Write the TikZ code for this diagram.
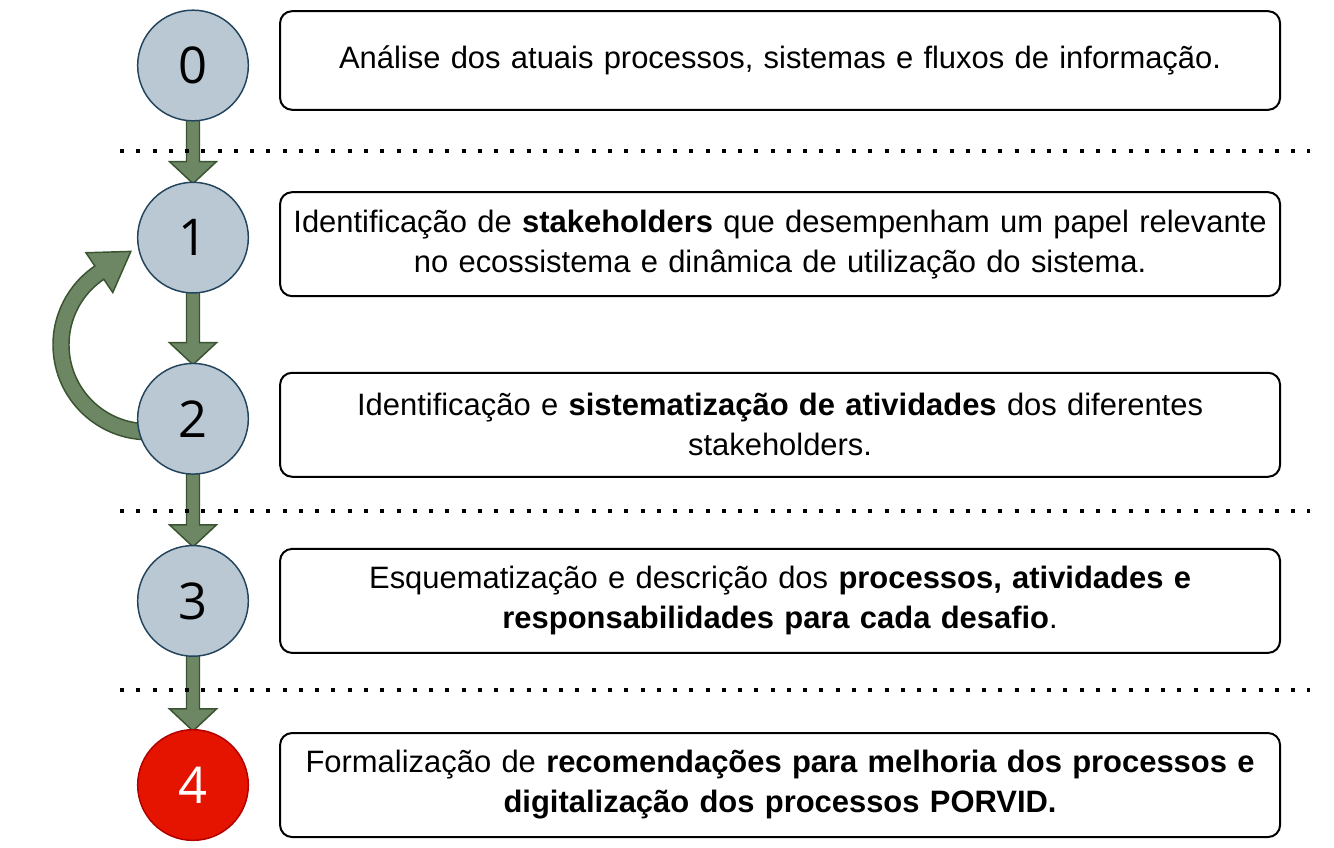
\documentclass[tikz,border=0pt]{standalone}
\usepackage{fontspec}
\setmainfont{Liberation Sans}
\newfontfamily\numfont{Open Sans}
\usepackage{tikz}
\usetikzlibrary{positioning,calc,backgrounds}
\definecolor{stagegray}{HTML}{BAC8D3}
\definecolor{stageedge}{HTML}{23445D}
\definecolor{lastred}{HTML}{E51400}
\definecolor{lastedge}{HTML}{B20000}
\definecolor{flowgreen}{HTML}{6D8764}
\definecolor{flowedge}{HTML}{3A5431}

% fat arrow from the bottom of one stage to the top of the next
\newcommand{\flowdown}[2]{%
  \filldraw[flow] ($(#1.south)+(-6.5,2)$) -- ($(#2.north)+(-6.5,20)$) -- ($(#2.north)+(-23.5,20)$)
    -- ($(#2.north)+(0,-2)$) -- ($(#2.north)+(23.5,20)$) -- ($(#2.north)+(6.5,20)$)
    -- ($(#1.south)+(6.5,2)$) -- cycle;}

\begin{document}
\begin{tikzpicture}[x=0.75pt, y=0.75pt,
    stage/.style={circle, draw=stageedge, fill=stagegray, line width=1.1pt, minimum size=83pt, inner sep=0pt, font=\numfont\fontsize{38}{40}\selectfont},
    laststage/.style={stage, draw=lastedge, fill=lastred, text=white},
    textbox/.style={rectangle, draw, line width=1.5pt, rounded corners=9pt, text width=744pt, inner sep=3pt, minimum height=78pt, align=center, font=\fontsize{23.2}{30}\selectfont},
    flow/.style={draw=flowedge, fill=flowgreen, line width=1.1pt, line join=miter},
    sep/.style={line width=3pt, dash pattern=on 3pt off 9.2pt}
]
\useasboundingbox (0,0) rectangle (1334,-848);

\node[stage] (c0) at (193,-65.5) {0};
\node[stage, below=45pt of c0] (c1) {1};
\node[stage, below=51.75pt of c1] (c2) {2};
\node[stage, below=52.5pt of c2] (c3) {3};
\node[laststage, below=54pt of c3] (c4) {4};

\node[textbox, right=22.5pt of c0, yshift=3.75pt, minimum height=74pt] (t0) {\raisebox{-3pt}{Análise dos atuais processos, sistemas e fluxos de informação.}};
\node[textbox, right=22.5pt of c1, yshift=-4.9pt] (t1) {Identificação de \textbf{stakeholders} que desempenham um papel relevante\\no ecossistema e dinâmica de utilização do sistema.};
\node[textbox, right=22.5pt of c2, yshift=-4.5pt] (t2) {Identificação e \textbf{sistematização de atividades} dos diferentes\\stakeholders.};
\node[textbox, right=22.5pt of c3] (t3) {Esquematização e descrição dos \textbf{processos, atividades e}\\\textbf{responsabilidades para cada desafio}.};
\node[textbox, right=22.5pt of c4] (t4) {Formalização de \textbf{recomendações para melhoria dos processos e}\\\textbf{digitalização dos processos PORVID.}};

\begin{scope}[on background layer]
\flowdown{c0}{c1}
\flowdown{c1}{c2}
\flowdown{c2}{c3}
\flowdown{c3}{c4}

% loop back from 2 to 1
\coordinate (loopc) at ($(c2)+(-45,74)$);
\filldraw[flow] ($(loopc)+(272:95)$) arc[start angle=272, end angle=124, radius=95]
  -- ($(loopc)+(124:111)$) -- ($(loopc)+(124:87)+(34:38)$) -- ($(loopc)+(124:63)$)
  -- ($(loopc)+(124:79)$) arc[start angle=124, end angle=272, radius=79] -- cycle;

\draw[sep] (120,-151) -- (1310,-151);
\draw[sep] (120,-511) -- (1310,-511);
\draw[sep] (120,-690) -- (1310,-690);
\end{scope}

\end{tikzpicture}
\end{document}
